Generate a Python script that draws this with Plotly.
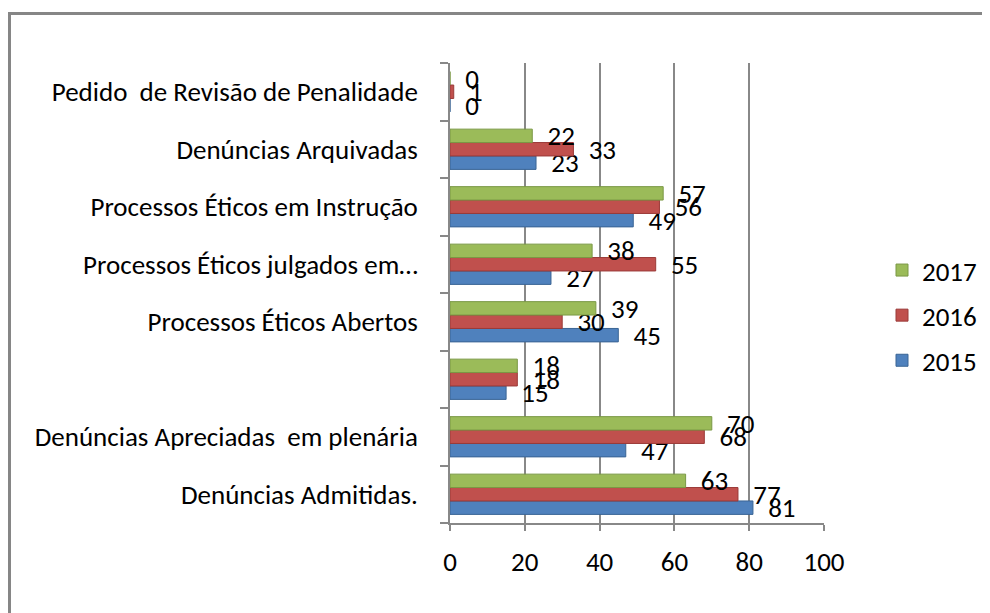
import plotly.graph_objects as go

categories = [
    "Denúncias Admitidas.",
    "Denúncias Apreciadas \u00a0em plenária",
    "",
    "Processos Éticos Abertos",
    "Processos Éticos julgados em…",
    "Processos Éticos em Instrução",
    "Denúncias Arquivadas",
    "Pedido \u00a0de Revisão de Penalidade",
]
series_names = ["2015", "2016", "2017"]
values_2015 = [81, 47, 15, 45, 27, 49, 23, 0]
values_2016 = [77, 68, 18, 30, 55, 56, 33, 1]
values_2017 = [63, 70, 18, 39, 38, 57, 22, 0]
x_ticks = [0, 20, 40, 60, 80, 100]

colors = ["#4F81BD", "#C0504D", "#9BBB59"]
edge_colors = ["#3A6494", "#9A3A38", "#7A9845"]
legend_ranks = [3, 2, 1]
FONT = "Carlito, Lato, Calibri, sans-serif"
FS = 27

# page body has an 8px margin; positions below are in figure pixels
W, H = 990, 613
ML, MR, MT, MB = 442, 174, 55, 98
pw = W - ML - MR
ph = H - MT - MB

def px_x(p):
    return (p - ML) / pw

def px_y(p):
    return (H - MB - p) / ph

ypos = list(range(len(categories)))
fig = go.Figure()
for name, vals, c, ec, rk in zip(series_names, [values_2015, values_2016, values_2017],
                                 colors, edge_colors, legend_ranks):
    fig.add_trace(go.Bar(
        y=ypos, x=vals, orientation="h", name=name,
        marker=dict(color=c, line=dict(color=ec, width=1)),
        text=[f"\u00a0\u00a0{v}" for v in vals],
        textposition="outside", constraintext="none", cliponaxis=False,
        textfont=dict(family=FONT, size=FS, color="#000000"),
        legendgroup=name, legendrank=rk,
    ))

fig.update_layout(
    width=W, height=H,
    margin=dict(l=ML, r=MR, t=MT, b=MB),
    paper_bgcolor="white", plot_bgcolor="white",
    barmode="group", bargap=0.3, bargroupgap=0,
    font=dict(family=FONT, size=FS, color="#000000"),
    showlegend=True,
    legend=dict(
        x=px_x(874), y=px_y(238), xanchor="left", yanchor="top",
        traceorder="grouped", tracegroupgap=7, itemwidth=30,
        font=dict(family=FONT, size=FS, color="#000000"),
        bgcolor="rgba(0,0,0,0)",
    ),
    xaxis=dict(
        range=[0, 100], tickvals=x_ticks, ticktext=[str(t) for t in x_ticks],
        showgrid=True, gridcolor="#888888", gridwidth=1.5,
        zeroline=False, showline=True, linecolor="#888888", linewidth=1.5,
        ticks="outside", ticklen=6, tickcolor="#888888", tickwidth=1.5,
        ticklabelstandoff=8, fixedrange=True,
    ),
    yaxis=dict(
        range=[-0.5, len(categories) - 0.5],
        tickmode="array", tickvals=ypos, ticktext=categories,
        showgrid=False, zeroline=False, showline=True,
        linecolor="#888888", linewidth=1.5, ticks="",
        ticklabelstandoff=25,
        minor=dict(tick0=0.5, dtick=1, ticks="outside", ticklen=8,
                   tickcolor="#888888", tickwidth=1.5, showgrid=False),
        fixedrange=True,
    ),
    shapes=[dict(
        type="path", xref="paper", yref="paper",
        path=f"M {px_x(1.5)} {px_y(H + 5)} L {px_x(1.5)} {px_y(5.5)} L {px_x(W + 5)} {px_y(5.5)}",
        line=dict(color="#868686", width=3),
    )],
)

fig.write_html("out.html")
